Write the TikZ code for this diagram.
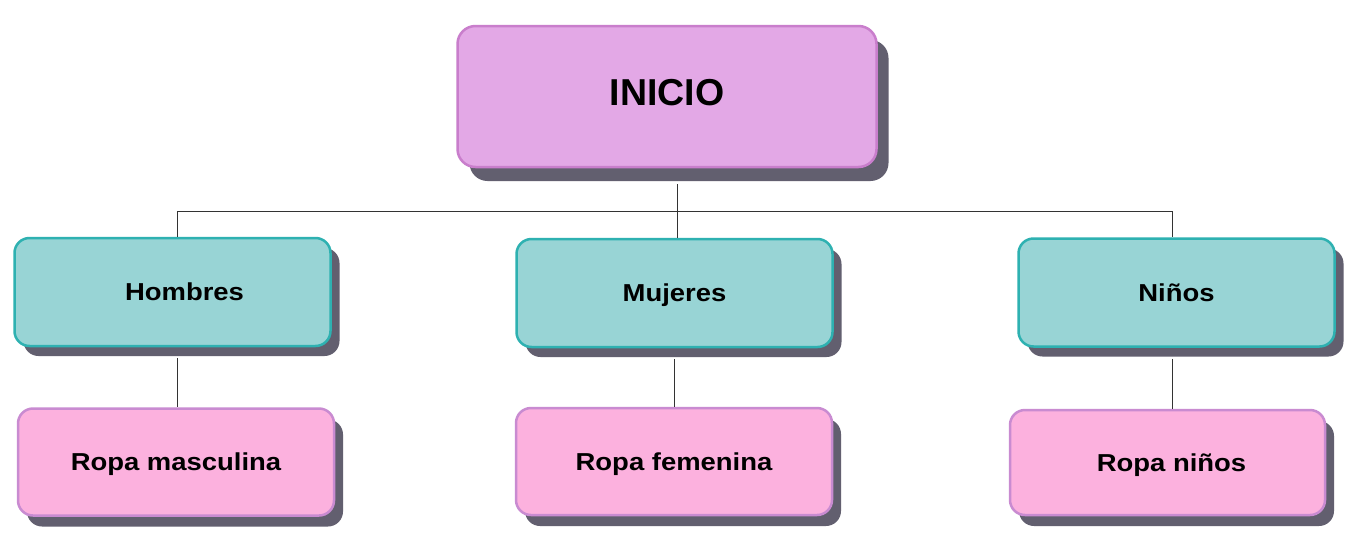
\documentclass[tikz,border=0pt]{standalone}
\usepackage{fontspec}
\setmainfont{Liberation Sans}
\newfontfamily\labfont[FakeStretch=1.12]{Liberation Sans}
\usetikzlibrary{shadows}
\definecolor{topfill}{HTML}{E3A8E6}
\definecolor{topdraw}{HTML}{C97ECC}
\definecolor{tealfill}{HTML}{98D4D5}
\definecolor{tealdraw}{HTML}{2EB1B1}
\definecolor{pinkfill}{HTML}{FCB1DE}
\definecolor{pinkdraw}{HTML}{C98BD1}
\definecolor{shadowc}{HTML}{625F6F}
\definecolor{linec}{HTML}{333333}
\tikzset{
  basebox/.style={rectangle, rounded corners=15pt, line width=2.5pt, inner sep=0pt},
  topbox/.style={basebox, rounded corners=18pt, fill=topfill, draw=topdraw, minimum width=419pt, minimum height=141pt,
    drop shadow={shadow xshift=12pt, shadow yshift=-14pt, fill=shadowc, opacity=1},
    font=\bfseries\fontsize{37.5}{40}\selectfont, text height=27pt, text depth=9pt},
  catbox/.style={basebox, fill=tealfill, draw=tealdraw, minimum width=316pt, minimum height=108pt,
    drop shadow={shadow xshift=9pt, shadow yshift=-10pt, fill=shadowc, opacity=1},
    font=\labfont\bfseries\fontsize{24.5}{28}\selectfont, text height=17.5pt, text depth=0pt},
  subbox/.style={basebox, fill=pinkfill, draw=pinkdraw, minimum width=316pt, minimum height=107pt,
    drop shadow={shadow xshift=9pt, shadow yshift=-11pt, fill=shadowc, opacity=1},
    font=\labfont\bfseries\fontsize{24.5}{28}\selectfont, text height=17.5pt, text depth=0pt},
  conn/.style={draw=linec, line width=1pt}
}
\begin{document}
\begin{tikzpicture}[x=1pt,y=-1pt]
\useasboundingbox[fill=white] (0,0) rectangle (1346,533);
\coordinate (jc) at (677,211);
\coordinate (jl) at (177,211);
\coordinate (jr) at (1172,211);
\node[topbox] (inicio) at (667,96.5) {INICIO};
\node[catbox] (hombres) at (172.5,292) {\hspace*{24pt}Hombres};
\node[catbox] (mujeres) at (674.5,293) {Mujeres};
\node[catbox] (ninos) at (1176.5,292.5) {Niños};
\node[subbox] (rmasc) at (176,462) {Ropa masculina};
\node[subbox] (rfem) at (674,461.5) {Ropa femenina};
\node[subbox, minimum width=315pt, minimum height=105pt] (rnin) at (1167.5,462.5) {\hspace*{8pt}Ropa niños};
\draw[conn] (inicio.south -| jc) ++(0,16) -- (jc);
\draw[conn] (jl) -- (jr);
\draw[conn] (jc) -- (jc |- mujeres.north);
\draw[conn] (jl) -- (jl |- hombres.north);
\draw[conn] (jr) -- (jr |- ninos.north);
\draw[conn] ([yshift=-11pt]jl |- hombres.south) -- (jl |- rmasc.north);
\draw[conn] ([yshift=-11pt]mujeres.south) -- (mujeres.south |- rfem.north);
\draw[conn] ([yshift=-11pt]jr |- ninos.south) -- (jr |- rnin.north);
\end{tikzpicture}
\end{document}
